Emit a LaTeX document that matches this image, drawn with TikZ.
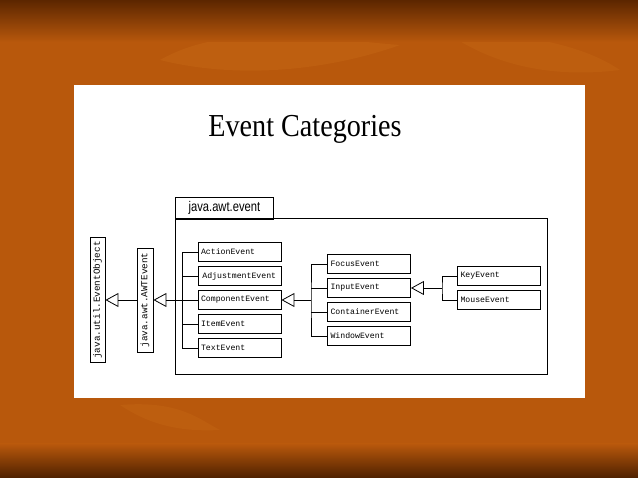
\documentclass[tikz,border=0pt]{standalone}
\usepackage{fontspec}
\setmainfont{Liberation Serif}
\newfontfamily\titlefont[FakeStretch=0.88]{Liberation Serif}
\newfontfamily\pkgfont[FakeStretch=0.8]{Liberation Sans}
\newfontfamily\classfont{Liberation Mono}
\usepackage{tikz}
\usetikzlibrary{positioning, arrows.meta, calc}
\definecolor{bgorange}{RGB}{184,88,12}
\definecolor{bgleaf}{RGB}{204,112,26}
\definecolor{bgdark}{RGB}{92,38,0}
\tikzset{
  cls/.style    ={draw, line width=0.9pt, minimum width=83pt, minimum height=19pt,
                  text width=77pt, align=left, inner sep=3pt, font=\classfont\fontsize{8.2}{9}\selectfont},
  vcls/.style   ={draw, line width=0.9pt, rotate=90, inner xsep=3pt, inner ysep=2pt,
                  font=\classfont\fontsize{9.3}{10}\selectfont},
  pkg/.style    ={draw, line width=0.8pt},
  link/.style   ={line width=0.8pt},
  inherit/.style={line width=0.8pt, -{Triangle[open, length=13pt, width=14pt, line width=0.8pt]}},
}

\begin{document}
\begin{tikzpicture}[x=1pt, y=-1pt]
  % background
  \fill[bgorange] (0,0) rectangle (638,478);
  \fill[bgleaf, opacity=0.3] (160,60) .. controls (230,20) and (330,40) .. (400,45) .. controls (330,70) and (240,80) .. cycle;
  \fill[bgleaf, opacity=0.25] (420,10) .. controls (480,40) and (560,30) .. (620,70) .. controls (540,80) and (470,60) .. cycle;
  \fill[bgleaf, opacity=0.25] (120,405) .. controls (180,400) and (200,420) .. (220,430) .. controls (180,432) and (150,425) .. cycle;
  \shade[top color=bgdark, bottom color=bgorange] (0,0) rectangle (638,42);
  \shade[top color=bgorange, bottom color=bgdark!85!black] (0,444) rectangle (638,478);
  \fill[white] (74,85) rectangle (585,398);
  \useasboundingbox (0,0) rectangle (638,478);

  \node[font=\titlefont\fontsize{32}{34}\selectfont] (title) at (305,129) {Event Categories};

  % package
  \node[pkg, minimum width=98pt, minimum height=21pt, anchor=north west,
        font=\pkgfont\fontsize{14}{15}\selectfont] (tab) at (175,197) {java.awt.event};
  \node[pkg, minimum width=372pt, minimum height=156pt, anchor=north west] (pack) at (175,218) {};
  \draw[line width=1.6pt] (tab.south west) -- (tab.south east);

  % superclasses
  \node[vcls, minimum width=125pt, minimum height=15pt] (obj) at (97.5,300) {java.util.EventObject};
  \node[vcls, minimum width=104pt, minimum height=16pt] (awt) at (145,300) {java.awt.AWTEvent};

  % first level
  \node[cls] (act)  at (239.5,252) {ActionEvent};
  \node[cls] (adj)  at (239.5,276) {\,AdjustmentEvent};
  \node[cls] (comp) at (239.5,300) {ComponentEvent};
  \node[cls] (item) at (239.5,324) {ItemEvent};
  \node[cls] (txt)  at (239.5,348) {TextEvent};

  % second level
  \node[cls] (foc)  at (369,264) {FocusEvent};
  \node[cls] (inp)  at (369,288) {InputEvent};
  \node[cls] (cont) at (369,312) {ContainerEvent};
  \node[cls] (win)  at (369,336) {WindowEvent};

  % third level
  \node[cls] (key)   at (499,276) {KeyEvent};
  \node[cls] (mouse) at (499,300) {MouseEvent};

  \coordinate (b1) at ($(comp.west)+(-15pt,0)$);
  \coordinate (b2) at (311,300);
  \coordinate (b3) at (442,288);

  \draw[link] (act.west) -| (b1) |- (txt.west);
  \draw[link] (adj.west) -- (adj.west -| b1);
  \draw[link] (item.west) -- (item.west -| b1);
  \draw[link] (comp.west) -- (b1);
  \draw[inherit] (b1) -- (awt.south);

  \draw[link] (foc.west) -| (b2) |- (win.west);
  \draw[link] (inp.west) -- (inp.west -| b2);
  \draw[link] (cont.west) -- (cont.west -| b2);
  \draw[inherit] (b2) -- (comp.east);

  \draw[link] (key.west) -| (b3) |- (mouse.west);
  \draw[inherit] (b3) -- (inp.east);

  \draw[inherit] (awt.north) -- (obj.south);
\end{tikzpicture}
\end{document}
